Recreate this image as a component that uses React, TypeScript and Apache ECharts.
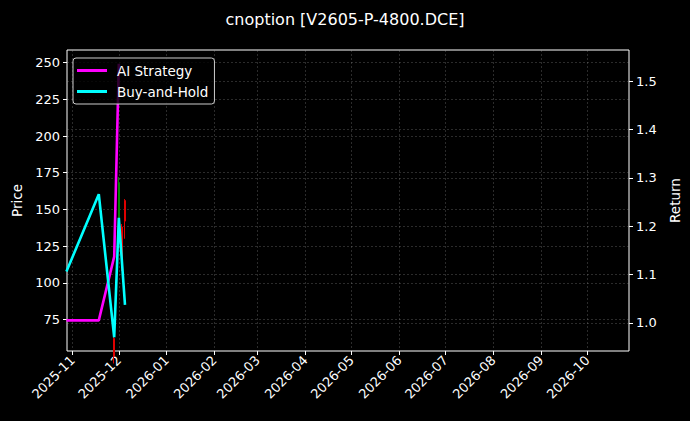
import * as echarts from "echarts"
import { useEffect, useRef } from "react"

const chartTitle = "cnoption [V2605-P-4800.DCE]"

// strategy curves (right axis, Return)
const lineDates = ["2025-10-28", "2025-11-18", "2025-11-28", "2025-12-01", "2025-12-05"]
const aiStrategy = [1.005, 1.005, 1.137, 1.536, null]
const buyAndHold = [1.106, 1.266, 0.97, 1.217, 1.037]

// candles (left axis, Price)
const candleDates = ["2025-11-28", "2025-12-01", "2025-12-03", "2025-12-05"]
const candleOpen = [62, 143, 138, 156]
const candleClose = [50, 168, 112, 142]
const candleLow = [45, 140, 108, 130]
const candleHigh = [63, 172, 140, 157]

const monthTicks = [
  "2025-11-01", "2025-12-01", "2026-01-01", "2026-02-01", "2026-03-01", "2026-04-01",
  "2026-05-01", "2026-06-01", "2026-07-01", "2026-08-01", "2026-09-01", "2026-10-01",
]
const priceTicks = [75, 100, 125, 150, 175, 200, 225, 250]
const returnTicks = [1.0, 1.1, 1.2, 1.3, 1.4, 1.5]

const FONT = "DejaVu Sans"
const ts = (d: string) => Date.parse(d + "T00:00:00Z")

const gridLine = { color: "rgba(160,160,160,0.45)", width: 0.6, type: [2, 2] as number[] }
const tickStyle = { show: true, inside: false, length: 4, lineStyle: { color: "#fff", width: 1 } }

export default function App(): React.ReactElement {
  const ref = useRef<HTMLDivElement>(null)

  useEffect(() => {
    const node = ref.current
    if (!node) return
    const chart = echarts.init(node, undefined, { renderer: "svg" })

    const xMonths = monthTicks.map(ts)

    chart.setOption({
      backgroundColor: "#000",
      animation: false,
      title: {
        text: chartTitle,
        left: "center",
        top: 6,
        textStyle: { color: "#fff", fontSize: 16, fontWeight: "normal", fontFamily: FONT },
      },
      legend: {
        data: ["AI Strategy", "Buy-and-Hold"],
        orient: "vertical",
        left: 73,
        top: 58,
        padding: [5, 6, 5, 4],
        itemGap: 6,
        itemWidth: 30,
        itemHeight: 3,
        icon: "rect",
        backgroundColor: "rgba(0,0,0,0.8)",
        borderColor: "#ccc",
        borderWidth: 1,
        borderRadius: 3,
        textStyle: {
          color: "#fff",
          fontSize: 13.5,
          fontFamily: FONT,
          lineHeight: 15,
          padding: [0, 0, 0, 5],
        },
      },
      grid: {
        left: 67,
        right: 61,
        top: 50,
        bottom: 70,
        show: true,
        borderColor: "#fff",
        borderWidth: 1,
        backgroundColor: "transparent",
      },
      xAxis: {
        type: "value",
        min: ts("2025-10-28") + 9 * 3600 * 1000,
        max: ts("2026-10-28"),
        axisLine: { show: false },
        axisTick: { ...tickStyle, customValues: xMonths },
        axisLabel: {
          customValues: xMonths,
          rotate: 45,
          margin: 7,
          color: "#fff",
          fontSize: 13,
          fontFamily: FONT,
          formatter: (v: number) => {
            const d = new Date(v)
            return `${d.getUTCFullYear()}-${String(d.getUTCMonth() + 1).padStart(2, "0")}`
          },
        },
        splitLine: { show: true, lineStyle: gridLine },
      },
      yAxis: [
        {
          type: "value",
          position: "left",
          min: 53.5,
          max: 258.6,
          name: "Price",
          nameLocation: "middle",
          nameGap: 43,
          nameTextStyle: { color: "#fff", fontSize: 13.5, fontFamily: FONT },
          axisLine: { show: false },
          axisTick: { ...tickStyle, customValues: priceTicks },
          axisLabel: {
            customValues: priceTicks,
            margin: 7,
            color: "#fff",
            fontSize: 13,
            fontFamily: FONT,
          },
          splitLine: { show: true, lineStyle: gridLine },
        },
        {
          type: "value",
          position: "right",
          min: 0.9417,
          max: 1.5643,
          name: "Return",
          nameLocation: "middle",
          nameGap: 33,
          nameTextStyle: { color: "#fff", fontSize: 13.5, fontFamily: FONT },
          axisLine: { show: false },
          axisTick: { ...tickStyle, customValues: returnTicks },
          axisLabel: {
            customValues: returnTicks,
            margin: 7,
            color: "#fff",
            fontSize: 13,
            fontFamily: FONT,
            formatter: (v: number) => v.toFixed(1),
          },
          splitLine: { show: true, lineStyle: gridLine },
        },
      ],
      series: [
        {
          type: "candlestick",
          name: "Candles",
          yAxisIndex: 0,
          barWidth: 1.5,
          clip: true,
          encode: { x: 0, y: [1, 2, 3, 4] },
          itemStyle: {
            color: "#008a00",
            color0: "#e00000",
            borderColor: "#008a00",
            borderColor0: "#e00000",
            borderWidth: 1,
          },
          data: candleDates.map((d, i) => [
            ts(d),
            candleOpen[i],
            candleClose[i],
            candleLow[i],
            candleHigh[i],
          ]),
        },
        {
          type: "line",
          name: "AI Strategy",
          yAxisIndex: 1,
          showSymbol: false,
          color: "#ff00ff",
          lineStyle: { color: "#ff00ff", width: 2.6 },
          data: lineDates
            .map((d, i) => [ts(d), aiStrategy[i]])
            .filter((p) => p[1] != null),
        },
        {
          type: "line",
          name: "Buy-and-Hold",
          yAxisIndex: 1,
          showSymbol: false,
          color: "#00ffff",
          lineStyle: { color: "#00ffff", width: 2.6 },
          data: lineDates.map((d, i) => [ts(d), buyAndHold[i]]),
        },
      ],
    })

    return () => chart.dispose()
  }, [])

  return (
    <div
      ref={ref}
      style={{ position: "absolute", left: 0, top: 0, width: 690, height: 421, background: "#000" }}
    />
  )
}
